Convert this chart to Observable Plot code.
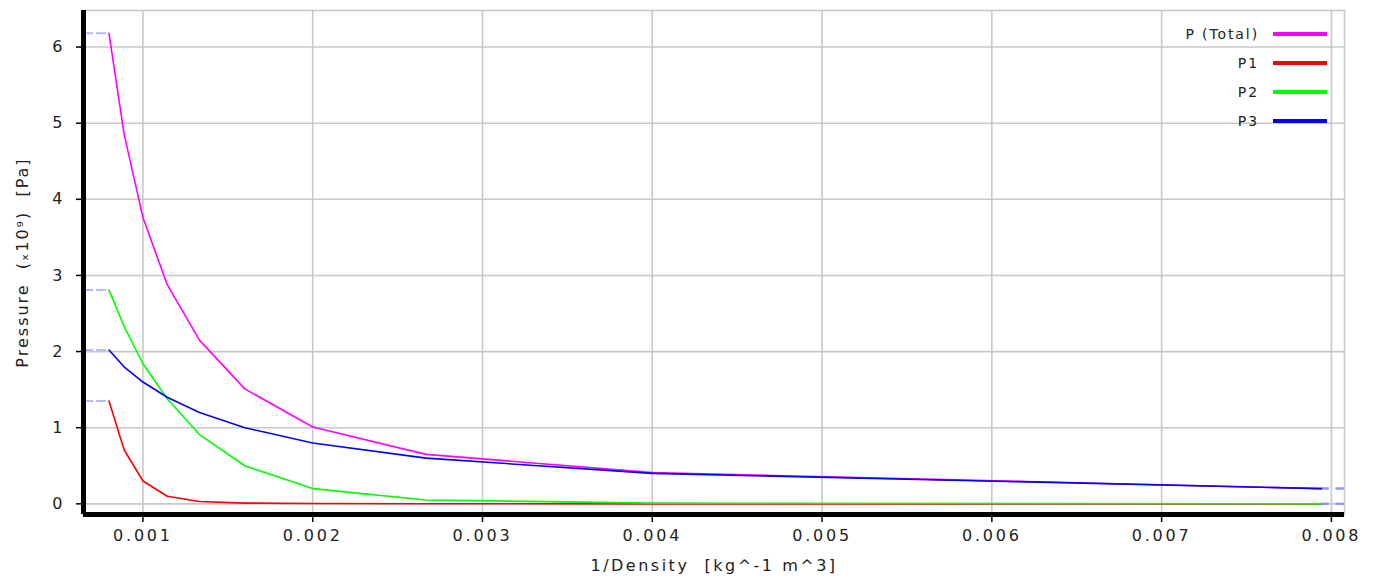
<!DOCTYPE html>
<html>
<head>
<meta charset="utf-8">
<script src="https://cdn.jsdelivr.net/npm/d3@7"></script>
<script src="https://cdn.jsdelivr.net/npm/@observablehq/plot@0.6"></script>
<style>
  html, body { margin: 0; padding: 0; background: #fff; }
  #wrap { position: relative; width: 1376px; height: 583px; font-family: "DejaVu Sans", sans-serif; }
  #wrap svg text { white-space: pre; }
  #legend { position: absolute; left: 1147px; top: 19px; width: 180px; }
  #legend .row { display: flex; align-items: center; justify-content: flex-end; height: 29px; }
  #legend .lab { font-size: 14px; letter-spacing: 1.9px; color: #222; margin-right: 14px; text-align: right; }
  #legend .sw { width: 54px; height: 4px; }
</style>
</head>
<body>
<div id="wrap"></div>
<script>
// ---- data ----
const invDensity = [0.0008, 0.000889, 0.001, 0.001143, 0.001333, 0.0016, 0.002, 0.002667, 0.004, 0.00794];
const pTotal = [6.18, 4.86, 3.76, 2.88, 2.15, 1.51, 1.01, 0.65, 0.41, 0.2];
const p1 = [1.35, 0.71, 0.30, 0.10, 0.03, 0.01, 0.004, 0.001, 0, 0];
const p2 = [2.81, 2.33, 1.84, 1.38, 0.91, 0.50, 0.20, 0.05, 0.01, 0];
const p3 = [2.02, 1.80, 1.60, 1.40, 1.20, 1.00, 0.80, 0.60, 0.40, 0.20];
const seriesNames = ["P (Total)", "P1", "P2", "P3"];
const seriesColors = ["#ff00ff", "#ff0000", "#00ff00", "#0000ff"];
const xTicks = [0.001, 0.002, 0.003, 0.004, 0.005, 0.006, 0.007, 0.008];
const yTicks = [0, 1, 2, 3, 4, 5, 6];
const xLabel = "1/Density  [kg^-1 m^3]";
const yLabel = "Pressure  (\u209310\u2079)  [Pa]";

const xDomain = [0.00065, 0.008077];
const yDomain = [-0.14, 6.48];

const seriesValues = [pTotal, p1, p2, p3];
const rows = [];
seriesNames.forEach((name, si) => {
  invDensity.forEach((x, i) => rows.push({series: name, x, y: seriesValues[si][i]}));
});
const firsts = seriesNames.map((name, si) => ({x1: xDomain[0], x2: invDensity[0], y: seriesValues[si][0]}));
const lasts = seriesNames.map((name, si) => ({x1: invDensity[invDensity.length - 1], x2: xDomain[1], y: seriesValues[si][invDensity.length - 1]}));

// draw order: P1, P2, Total, P3
const drawOrder = ["P1", "P2", "P (Total)", "P3"];

const chart = Plot.plot({
  width: 1376,
  height: 583,
  marginLeft: 83,
  marginRight: 32,
  marginTop: 10,
  marginBottom: 69,
  style: {fontFamily: "DejaVu Sans", fontSize: "16px", color: "#222", background: "#fff"},
  x: {domain: xDomain},
  y: {domain: yDomain},
  color: {domain: seriesNames, range: seriesColors},
  marks: [
    Plot.gridX(xTicks, {stroke: "#c8c8c8", strokeOpacity: 1, strokeWidth: 1.6}),
    Plot.gridY(yTicks, {stroke: "#c8c8c8", strokeOpacity: 1, strokeWidth: 1.6}),
    Plot.frame({stroke: "#c8c8c8", strokeWidth: 1.6}),
    Plot.ruleY(firsts, {x1: "x1", x2: "x2", y: "y", stroke: "#b4baff", strokeWidth: 2, strokeDasharray: "10,3"}),
    Plot.ruleY(lasts, {x1: "x1", x2: "x2", y: "y", stroke: "#8c98ff", strokeWidth: 2, strokeDasharray: "8,7"}),
    ...drawOrder.map(name => Plot.line(rows.filter(d => d.series === name), {x: "x", y: "y", stroke: "series", strokeWidth: 1.6})),
    Plot.ruleX([xDomain[0]], {stroke: "#000", strokeWidth: 5}),
    Plot.ruleY([yDomain[0]], {stroke: "#000", strokeWidth: 5}),
    Plot.axisX(xTicks, {anchor: "bottom", tickSize: 8, tickPadding: 7, tickFormat: d => d.toFixed(3), label: null, stroke: "#000", strokeWidth: 1.5, fontSize: 16}),
    Plot.axisY(yTicks, {anchor: "left", tickSize: 7, tickPadding: 14, tickFormat: d => String(d), label: null, stroke: "#000", strokeWidth: 1.5, fontSize: 16}),
    Plot.text([xLabel], {frameAnchor: "bottom", dy: 56, fontSize: 16, fill: "#222"}),
    Plot.text([yLabel], {frameAnchor: "left", textAnchor: "middle", dx: -61, rotate: -90, fontSize: 16, fill: "#222"})
  ]
});

// letter spacing for tick labels and axis titles
const sel = d3.select(chart);
sel.selectAll('g[aria-label="x-axis tick label"] text').style("letter-spacing", "2.8px");
sel.selectAll("text").filter(function() { return this.textContent === xLabel; }).style("letter-spacing", "2.5px");
sel.selectAll("text").filter(function() { return this.textContent === yLabel; }).style("letter-spacing", "2px");

const wrap = document.getElementById("wrap");
wrap.appendChild(chart);

const legend = document.createElement("div");
legend.id = "legend";
seriesNames.forEach((name, i) => {
  const row = document.createElement("div");
  row.className = "row";
  const lab = document.createElement("span");
  lab.className = "lab";
  lab.textContent = name;
  const sw = document.createElement("span");
  sw.className = "sw";
  sw.style.background = seriesColors[i];
  row.appendChild(lab);
  row.appendChild(sw);
  legend.appendChild(row);
});
wrap.appendChild(legend);
</script>
</body>
</html>
